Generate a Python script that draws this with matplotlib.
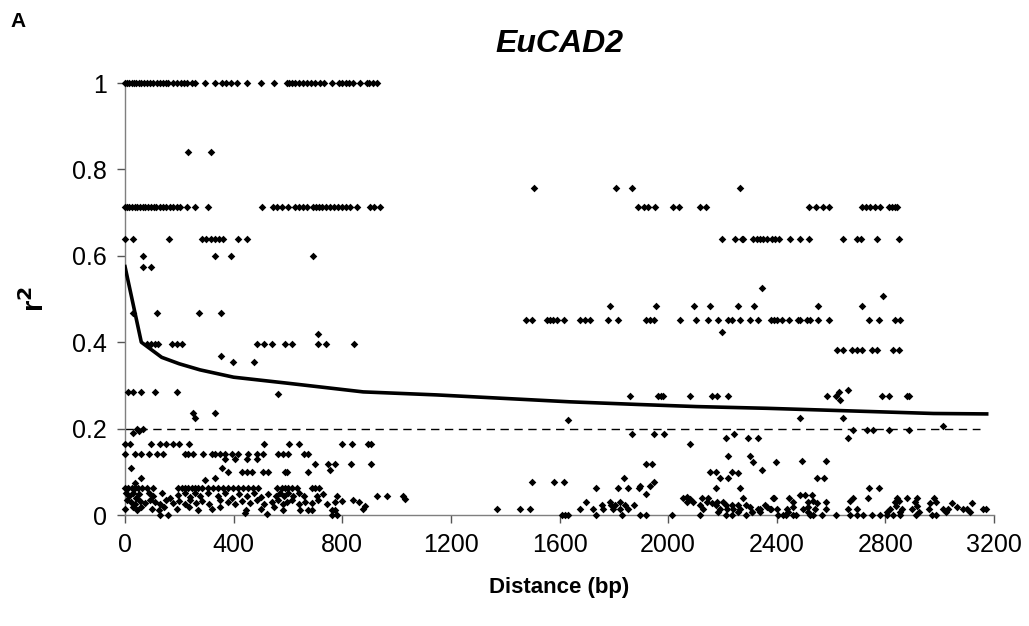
import matplotlib
matplotlib.use("Agg")
import matplotlib.pyplot as plt
import numpy as np

plt.rcParams['font.family'] = ['Liberation Sans', 'DejaVu Sans']

# ---- rows of points sharing the same r2 value (distance lists) ----
row_1000 = [0, 8, 16, 24, 32, 40, 50, 60, 70, 80, 92, 104, 116, 128, 140, 152, 160,
            177, 190, 205, 218, 230, 245, 258, 295, 331, 357, 372, 390, 412, 449, 500,
            549, 596, 605, 615, 625, 640, 655, 670, 685, 700, 718, 733, 762, 788, 800,
            812, 825, 840, 865, 890, 900, 912, 927]
row_0840 = [232, 317]
row_0758 = [1507, 1808, 1866, 2265]
row_0712 = [0, 8, 16, 24, 35, 45, 55, 65, 75, 85, 95, 105, 115, 128, 140, 152, 165, 178,
            190, 203, 228, 258, 306, 504, 546, 560, 577, 600, 626, 640, 655, 669, 693,
            705, 715, 725, 740, 755, 770, 785, 800, 815, 830, 853, 902, 915, 939,
            1890, 1912, 1924, 1952, 2019, 2041, 2117, 2139, 2520, 2543, 2571, 2594,
            2713, 2728, 2743, 2760, 2780, 2815, 2826, 2836, 2844]
row_0638 = [0, 29, 162, 283, 300, 315, 330, 345, 361, 416, 449,
            2197, 2246, 2271, 2277, 2314, 2326, 2338, 2350, 2365, 2382, 2395, 2409,
            2449, 2486, 2520, 2645, 2694, 2709, 2770, 2851]
row_0600 = [66, 331, 390, 692]
row_0574 = [66, 95]
row_0484 = [1786, 1955, 2095, 2154, 2256, 2316, 2551, 2713]
row_0467 = [29, 118, 272, 353]
row_0452 = [1477, 1498, 1555, 1565, 1575, 1591, 1617, 1675, 1693, 1712, 1777, 1817,
            1919, 1933, 1948, 2045, 2101, 2145, 2182, 2222, 2234, 2265, 2301, 2330,
            2378, 2390, 2400, 2418, 2446, 2477, 2486, 2513, 2522, 2551, 2594, 2741,
            2778, 2836, 2854]
row_0397 = [80, 95, 110, 122, 172, 190, 209, 485, 510, 541, 589, 616, 711, 740, 843]
row_0382 = [2621, 2645, 2676, 2695, 2713, 2750, 2770, 2829, 2851]
row_0285 = [12, 31, 58, 110, 190]
row_0275 = [1860, 1962, 1975, 1982, 2080, 2160, 2181, 2219, 2586, 2618, 2786, 2815,
            2881, 2888]
row_0164 = [0, 18, 96, 129, 151, 175, 199, 236, 513, 604, 641, 800, 837, 896, 905]
row_0141 = [0, 37, 58, 88, 119, 139, 221, 233, 252, 286, 319, 331, 350, 368, 393, 417,
            452, 485, 509, 565, 583, 601, 659, 675]
row_0062 = [0, 12, 25, 37, 49, 61, 80, 104, 196, 209, 221, 233, 245, 258, 270, 282,
            307, 325, 343, 362, 380, 399, 417, 436, 454, 472, 491, 558, 577, 589, 601,
            614, 632, 687, 700, 715]

# ---- scattered points (distance, r2) ----
mid_x = [2345, 2792, 2197, 711, 352, 396, 476, 565, 2630, 2661, 2633, 249, 258, 331,
         28, 43, 53, 65, 368, 405, 448, 485, 700, 746, 773, 831, 905, 21, 356, 755,
         381, 430, 448, 466, 509, 528, 589, 595, 675, 58, 331, 295, 37]
mid_y = [0.526, 0.508, 0.424, 0.42, 0.369, 0.355, 0.355, 0.28, 0.285, 0.29, 0.266,
         0.235, 0.224, 0.235, 0.19, 0.2, 0.195, 0.2, 0.129, 0.129, 0.129, 0.129,
         0.118, 0.118, 0.118, 0.118, 0.118, 0.108, 0.108, 0.104, 0.1, 0.1, 0.1, 0.1,
         0.1, 0.1, 0.1, 0.1, 0.1, 0.085, 0.085, 0.081, 0.073]

left_low_x = [3, 15, 28, 40, 52, 90, 104, 135, 165, 196, 221, 240, 258, 276, 307, 343,
              368, 395, 420, 448, 475, 500, 528, 555, 571, 585, 601, 620, 640, 660, 706,
              730, 780, 927, 964, 1024, 1031,
              8, 22, 37, 55, 72, 92, 110, 130, 150, 175, 200, 220, 240, 262, 285, 310,
              350, 380, 405, 430, 460, 485, 510, 540, 565, 580, 595, 615, 640, 662, 690,
              712, 745, 772, 800, 840, 860,
              0, 30, 45, 60, 100, 125, 145, 190, 235, 270, 320, 350, 445, 500, 550, 580,
              644, 675, 687, 761, 773, 877, 884,
              129, 160, 442, 522, 763, 779]
left_low_y = [0.05, 0.045, 0.052, 0.04, 0.048, 0.05, 0.045, 0.05, 0.04, 0.047, 0.05,
              0.042, 0.05, 0.045, 0.05, 0.045, 0.05, 0.04, 0.048, 0.045, 0.05, 0.042,
              0.048, 0.045, 0.05, 0.045, 0.052, 0.044, 0.05, 0.045, 0.045, 0.048, 0.045,
              0.045, 0.045, 0.045, 0.038,
              0.035, 0.03, 0.025, 0.033, 0.028, 0.035, 0.03, 0.025, 0.035, 0.028, 0.032,
              0.025, 0.035, 0.028, 0.033, 0.025, 0.035, 0.03, 0.025, 0.033, 0.028, 0.035,
              0.025, 0.03, 0.035, 0.025, 0.03, 0.035, 0.025, 0.03, 0.028, 0.035, 0.025,
              0.03, 0.032, 0.035, 0.03,
              0.015, 0.018, 0.012, 0.019, 0.015, 0.012, 0.018, 0.015, 0.019, 0.012, 0.015,
              0.018, 0.012, 0.015, 0.018, 0.012, 0.012, 0.012, 0.012, 0.012, 0.012, 0.015,
              0.022,
              0.0, 0.0, 0.004, 0.002, 0.0, 0.0]

right_low_x = [1631, 1866, 1948, 1985, 2212, 2243, 2293, 2330, 2080, 2219, 2301, 2313,
               2396, 1919, 1940, 2345, 2154, 2175, 2234, 2258, 1838, 2191, 2219, 1500,
               1580, 1617, 1948, 1896, 1933, 1734, 1814, 1853, 1894, 2175, 2265, 1919,
               2056, 2068, 2080, 2124, 2148, 2277, 2387,
               1698, 1786, 1823, 2068, 2093, 2142, 2160, 2179, 2203,
               1755, 1790, 1804, 1841, 1874, 2117, 2175, 2212, 2234, 2258, 2285, 2357,
               1369, 1455, 1491, 1675, 1724, 1761, 1797, 1823, 1852, 2129, 2191, 2216,
               2240, 2265, 2338, 2375,
               2184, 2258, 2308,
               1608, 1620, 1632, 1734, 1831, 1896, 1919, 2015, 2117, 2212, 2234, 2285]
right_low_y = [0.22, 0.1875, 0.1875, 0.1875, 0.179, 0.1875, 0.179, 0.179, 0.164, 0.137,
               0.137, 0.123, 0.123, 0.118, 0.118, 0.104, 0.1, 0.1, 0.1, 0.097, 0.086,
               0.086, 0.086, 0.077, 0.077, 0.077, 0.077, 0.067, 0.067, 0.063, 0.063,
               0.063, 0.063, 0.063, 0.063, 0.049,
               0.04, 0.042, 0.038, 0.04, 0.04, 0.04, 0.04,
               0.031, 0.031, 0.031, 0.031, 0.031, 0.031, 0.028, 0.031, 0.031,
               0.023, 0.023, 0.023, 0.023, 0.023, 0.023, 0.023, 0.023, 0.023, 0.023,
               0.023, 0.023,
               0.015, 0.015, 0.015, 0.015, 0.015, 0.015, 0.015, 0.015, 0.015, 0.015,
               0.015, 0.015, 0.015, 0.015, 0.015, 0.015,
               0.008, 0.008, 0.008,
               0.0, 0.0, 0.0, 0.0, 0.0, 0.0, 0.0, 0.0, 0.0, 0.0, 0.0, 0.0]

far_low_x = [2484, 2645, 2682, 2731, 2756, 2815, 2888, 3013, 2661, 2492, 2580, 2549,
             2574, 2741, 2778,
             2390, 2446, 2486, 2504, 2529, 2682, 2735, 2842, 2881, 2918, 2980,
             2459, 2516, 2535, 2547, 2580, 2670, 2836, 2850, 2909, 2964, 2985, 3046, 3118,
             2301, 2332, 2363, 2379, 2400, 2439, 2461, 2498, 2516, 2541, 2580, 2664, 2695,
             2817, 2840, 2860, 2897, 2915, 2962, 3013, 3029, 3063, 3087, 3100, 3161, 3171,
             2308, 2338, 2443, 2516, 2805, 2854, 2925, 3025, 3111,
             2406, 2424, 2434, 2461, 2471, 2522, 2535, 2566, 2618, 2670, 2695, 2719,
             2750, 2780, 2805, 2829, 2854, 2912, 2971, 2985]
far_low_y = [0.225, 0.225, 0.197, 0.197, 0.197, 0.197, 0.197, 0.206, 0.179, 0.126,
             0.126, 0.086, 0.086, 0.063, 0.063,
             0.04, 0.04, 0.046, 0.046, 0.046, 0.04, 0.04, 0.04, 0.04, 0.04, 0.04,
             0.03, 0.03, 0.033, 0.027, 0.03, 0.033, 0.03, 0.033, 0.03, 0.027, 0.03,
             0.027, 0.027,
             0.018, 0.015, 0.018, 0.015, 0.015, 0.015, 0.018, 0.015, 0.018, 0.015, 0.015,
             0.015, 0.015, 0.015, 0.02, 0.015, 0.015, 0.02, 0.015, 0.015, 0.015, 0.018,
             0.015, 0.015, 0.015, 0.013,
             0.008, 0.008, 0.008, 0.008, 0.008, 0.008, 0.008, 0.008, 0.008,
             0, 0, 0, 0, 0, 0, 0, 0, 0, 0, 0, 0, 0, 0, 0, 0, 0, 0, 0, 0]

# ---- decay trend line ----
curve_x = [0, 60, 135, 200, 276, 400, 600, 877, 1148, 1455, 1639, 1884, 2105, 2363,
           2670, 2977, 3173]
curve_y = [0.575, 0.40, 0.365, 0.35, 0.336, 0.319, 0.305, 0.285, 0.278, 0.268, 0.262,
           0.256, 0.251, 0.247, 0.241, 0.235, 0.234]

threshold = 0.2
threshold_x = [0, 3150]

x_ticks = [0, 400, 800, 1200, 1600, 2000, 2400, 2800, 3200]
y_ticks = [0, 0.2, 0.4, 0.6, 0.8, 1]
y_ticklabels = ['0', '0.2', '0.4', '0.6', '0.8', '1']

rows = [(row_1000, 1.0), (row_0840, 0.84), (row_0758, 0.758), (row_0712, 0.712),
        (row_0638, 0.638), (row_0600, 0.60), (row_0574, 0.574), (row_0484, 0.484),
        (row_0467, 0.467), (row_0452, 0.452), (row_0397, 0.397), (row_0382, 0.382),
        (row_0285, 0.285), (row_0275, 0.275), (row_0164, 0.164), (row_0141, 0.141),
        (row_0062, 0.062)]

fig = plt.figure(figsize=(10.29, 6.26), dpi=100)
ax = fig.add_axes([0.1215, 0.1773, 0.8445, 0.6901])

all_x, all_y = [], []
for xs, yv in rows:
    all_x += list(xs)
    all_y += [yv] * len(xs)
for xs, ys in [(mid_x, mid_y), (left_low_x, left_low_y), (right_low_x, right_low_y),
               (far_low_x, far_low_y)]:
    all_x += list(xs)
    all_y += list(ys)

ax.scatter(all_x, all_y, marker='D', s=15, color='black', linewidths=0, clip_on=False,
           zorder=3)
ax.plot(threshold_x, [threshold, threshold], color='black', lw=1.0,
        dashes=(6, 4), zorder=2)
ax.plot(curve_x, curve_y, color='black', lw=2.6, zorder=4, solid_joinstyle='round')

ax.set_xlim(0, 3200)
ax.set_ylim(0, 1)
ax.set_xticks(x_ticks)
ax.set_xticklabels([str(v) for v in x_ticks])
ax.set_yticks(y_ticks)
ax.set_yticklabels(y_ticklabels)

for s in ['top', 'right']:
    ax.spines[s].set_visible(False)
for s in ['left', 'bottom']:
    ax.spines[s].set_color('#7f7f7f')
    ax.spines[s].set_linewidth(1.0)
ax.tick_params(axis='both', direction='out', length=6, width=1.0, color='#555555',
               labelsize=18, pad=7)

ax.set_xlabel('Distance (bp)', fontsize=16, fontweight='bold', labelpad=14)
ax.set_ylabel('r$^\\mathbf{2}$', fontsize=21, fontweight='bold', labelpad=16)
ax.set_title('EuCAD2', fontsize=23, fontweight='bold', fontstyle='italic', pad=22)
fig.text(0.01, 0.965, 'A', fontsize=15, fontweight='bold', ha='left', va='center')

fig.savefig('out.png', dpi=100)
